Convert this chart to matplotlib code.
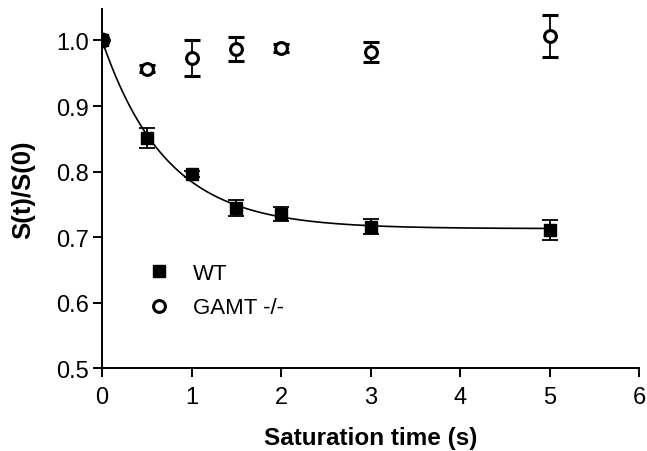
import numpy as np
import matplotlib
matplotlib.use("Agg")
import matplotlib.pyplot as plt
from matplotlib.lines import Line2D

plt.rcParams['font.family'] = ['Liberation Sans', 'DejaVu Sans']

t = [0, 0.5, 1, 1.5, 2, 3, 5]
wt = [1.0, 0.851, 0.796, 0.744, 0.735, 0.716, 0.711]
wt_err = [0.0, 0.015, 0.005, 0.012, 0.011, 0.011, 0.015]
gamt = [1.0, 0.957, 0.973, 0.987, 0.988, 0.982, 1.007]
gamt_err = [0.0, 0.005, 0.027, 0.018, 0.006, 0.015, 0.032]

# exponential fit parameters for WT
fit_A, fit_B, fit_T = 0.713, 0.287, 0.72

fig = plt.figure(figsize=(6.47, 4.52), dpi=100)
ax = fig.add_axes([0.1577, 0.1829, 0.8303, 0.7951])

tt = np.linspace(0, 5, 300)
ax.plot(tt, fit_A + fit_B * np.exp(-tt / fit_T), color='black', lw=1.2, zorder=2)

ax.errorbar(t, wt, yerr=wt_err, fmt='s', color='black', ms=9, capsize=5.5,
            elinewidth=1.3, capthick=1.3, zorder=3)
ax.errorbar(t, gamt, yerr=gamt_err, fmt='o', mfc='white', mec='black', color='black',
            ms=8.5, mew=2.2, capsize=5.5, elinewidth=1.3, capthick=1.3, zorder=3)
# overlapping points at t=0 appear as one filled blob
ax.plot(t[:1], wt[:1], 'o', color='black', ms=10.5, zorder=4)

ax.set_xlim(0, 6)
ax.set_ylim(0.5, 1.048)
ax.set_xticks([0, 1, 2, 3, 4, 5, 6])
ax.set_yticks([0.5, 0.6, 0.7, 0.8, 0.9, 1.0])
ax.set_yticklabels(['0.5', '0.6', '0.7', '0.8', '0.9', '1.0'])
for s in ['top', 'right']:
    ax.spines[s].set_visible(False)
for s in ['left', 'bottom']:
    ax.spines[s].set_linewidth(1.4)
ax.tick_params(axis='both', labelsize=17, width=1.4, length=6.5, direction='out')
ax.tick_params(axis='y', pad=3)
ax.tick_params(axis='x', pad=6)
ax.set_xlabel('Saturation time (s)', fontsize=17.5, fontweight='bold', labelpad=13)
ax.set_ylabel('S(t)/S(0)', fontsize=18.5, fontweight='bold', labelpad=15)

handles = [
    Line2D([], [], ls='none', marker='s', color='black', ms=8.5),
    Line2D([], [], ls='none', marker='o', mfc='white', mec='black', ms=8.5, mew=2.2),
]
labels = ['WT', 'GAMT -/-']
ax.legend(handles, labels, loc='upper left', bbox_to_anchor=(0.0856, 0.293),
          borderaxespad=0, borderpad=0, frameon=False, fontsize=16,
          handlelength=1.0, handletextpad=1.03, labelspacing=0.6)

fig.savefig('out.png', dpi=100)
